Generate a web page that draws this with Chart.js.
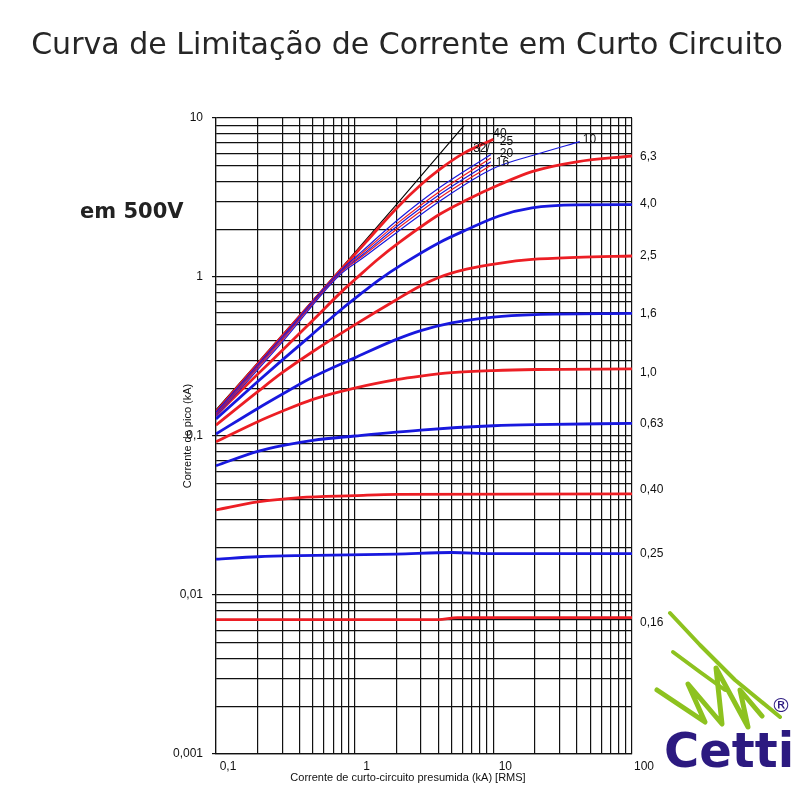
<!DOCTYPE html>
<html>
<head>
<meta charset="utf-8">
<script src="https://cdn.jsdelivr.net/npm/chart.js@4"></script>
<style>
  html,body{margin:0;padding:0;background:#fff;width:800px;height:800px;overflow:hidden;}
  #wrap{position:relative;width:800px;height:800px;}
  #c{position:absolute;left:0;top:0;}
  #title{position:absolute;left:7px;top:26px;width:800px;text-align:center;font-family:"DejaVu Sans",sans-serif;font-size:30px;line-height:36px;color:#262626;white-space:nowrap;}
  #volt{position:absolute;left:80px;top:198px;font-family:"DejaVu Sans",sans-serif;font-weight:bold;font-size:21px;line-height:26px;color:#222;}
  #logo{position:absolute;left:664px;top:726px;font-family:"DejaVu Sans",sans-serif;font-weight:bold;font-size:48px;line-height:48px;color:#2c1a80;letter-spacing:0px;}
  #reg{position:absolute;left:771px;top:694px;font-family:"DejaVu Sans",sans-serif;font-size:20px;line-height:22px;color:#2c1a80;}
  #sq{position:absolute;left:0;top:0;}
</style>
</head>
<body>
<div id="wrap">
  <canvas id="c" width="800" height="800"></canvas>
  <div id="title">Curva de Limitação de Corrente em Curto Circuito</div>
  <div id="volt">em 500V</div>
  <svg id="sq" width="800" height="800">
    <g fill="none" stroke="#8dc21f" stroke-linecap="round" stroke-linejoin="round">
      <polyline stroke-width="4" points="670,613 700,645 735,680 780,717"/>
      <polyline stroke-width="5" points="657,690 705,722 688,684 722,724 716,668 748,727 740,690 762,716"/>
      <polyline stroke-width="4" points="673,652 700,672 725,690"/>
    </g>
  </svg>
  <div id="reg">®</div>
  <div id="logo">Cetti</div>
</div>
<script>
// ---- axis ticks ----
const xMajorValues = [0.1, 1, 10, 100];
const xTickLabels  = ['0,1', '1', '10', '100'];
const yMajorValues = [0.001, 0.01, 0.1, 1, 10];
const yTickLabels  = ['0,001', '0,01', '0,1', '1', '10'];
const xTitle = 'Corrente de curto-circuito presumida (kA) [RMS]';
const yTitle = 'Corrente de pico (kA)';

// ---- curves: prospective short-circuit current (kA rms) vs peak let-through current (kA) ----
const xUnlimited = [0.1, 0.78, 2, 6.1];
const yUnlimited = [0.146, 1.107, 2.85, 8.9];

const x40 = [0.1, 0.3, 0.78, 1.2, 2, 3, 4.1, 6, 10];
const y40 = [0.142, 0.425, 1.09, 1.65, 2.7, 3.8, 4.75, 5.95, 7.35];
const x32 = [0.1, 0.3, 0.78, 1.15, 2, 4.1, 9.6];
const y32 = [0.141, 0.42, 1.08, 1.47, 2.25, 3.65, 5.9];
const x25 = [0.1, 0.3, 0.78, 1.15, 2, 4.1, 9.6];
const y25 = [0.139, 0.415, 1.07, 1.43, 2.15, 3.45, 5.6];
const x20 = [0.1, 0.3, 0.78, 1.15, 2, 4.1, 9.6];
const y20 = [0.137, 0.41, 1.06, 1.39, 2.07, 3.3, 5.3];
const x16 = [0.1, 0.3, 0.78, 1.15, 2, 4.1, 9.6];
const y16 = [0.135, 0.40, 1.05, 1.36, 1.99, 3.15, 5.05];
const x10 = [0.1, 0.3, 0.78, 1.15, 2, 4.1, 9.9, 21.7, 42];
const y10 = [0.133, 0.39, 1.03, 1.32, 1.9, 3.0, 4.8, 6.0, 7.1];

const x6_3 = [0.1, 0.2, 0.3, 0.5, 0.83, 1, 1.45, 2.1, 4.1, 6.4, 11, 19, 40, 100];
const y6_3 = [0.135, 0.245, 0.345, 0.535, 0.83, 0.96, 1.28, 1.65, 2.48, 3.05, 3.8, 4.6, 5.3, 5.77];
const x4_0 = [0.1, 0.2, 0.3, 0.5, 0.8, 1.1, 1.5, 2.2, 4.1, 6.4, 11, 19, 40, 100];
const y4_0 = [0.128, 0.22, 0.30, 0.44, 0.625, 0.78, 0.96, 1.2, 1.65, 1.98, 2.42, 2.72, 2.84, 2.85];
const x2_5 = [0.1, 0.2, 0.3, 0.5, 1, 2, 3, 4, 6.4, 11, 19, 40, 100];
const y2_5 = [0.117, 0.19, 0.25, 0.34, 0.50, 0.72, 0.88, 0.99, 1.12, 1.22, 1.29, 1.33, 1.355];
const x1_6 = [0.1, 0.2, 0.3, 0.5, 1, 2, 3, 5, 10, 20, 100];
const y1_6 = [0.103, 0.149, 0.183, 0.235, 0.31, 0.405, 0.46, 0.515, 0.56, 0.58, 0.59];
const x1_0 = [0.1, 0.2, 0.3, 0.5, 1, 2, 3, 5, 10, 20, 100];
const y1_0 = [0.092, 0.123, 0.143, 0.170, 0.200, 0.226, 0.238, 0.250, 0.258, 0.262, 0.264];
const x0_63 = [0.1, 0.2, 0.3, 0.5, 1, 3, 10, 20, 100];
const y0_63 = [0.065, 0.080, 0.087, 0.094, 0.100, 0.109, 0.116, 0.118, 0.120];
const x0_40 = [0.1, 0.2, 0.4, 1, 2, 100];
const y0_40 = [0.0343, 0.0385, 0.041, 0.0422, 0.043, 0.0432];
const x0_25 = [0.1, 0.2, 0.4, 2, 5, 10, 100];
const y0_25 = [0.0168, 0.0174, 0.0177, 0.0181, 0.0185, 0.0182, 0.0182];
const x0_16 = [0.1, 1, 4, 5.5, 10, 100];
const y0_16 = [0.0070, 0.0070, 0.0070, 0.0072, 0.0072, 0.0072];

const RED = 'rgb(236,30,36)';
const BLUE = 'rgb(24,24,222)';
const pts = (xs, ys) => xs.map((x, i) => ({x: x, y: ys[i]}));

function ds(label, xs, ys, color, width, extra) {
  return Object.assign({
    label: label, data: pts(xs, ys), borderColor: color, borderWidth: width,
    pointRadius: 0, fill: false, cubicInterpolationMode: 'monotone'
  }, extra || {});
}

const datasets = [
  ds('32', x32, y32, BLUE, 1.2, {endLabel: '32/', lx: -1, ly: -6, lalign: 'right'}),
  ds('25', x25, y25, RED, 1.2, {endLabel: '25', lx: 9, ly: -16}),
  ds('20', x20, y20, BLUE, 1.2, {endLabel: '20', lx: 9, ly: -8}),
  ds('16', x16, y16, RED, 1.2, {endLabel: '16', lx: 5, ly: -2}),
  ds('10', x10, y10, BLUE, 1.2, {endLabel: '10', lx: 3, ly: -2}),
  ds('40', x40, y40, RED, 2.8, {endLabel: '40', lx: 0, ly: -6}),
  ds('6,3', x6_3, y6_3, RED, 2.8, {rightLabel: '6,3', ly: 1}),
  ds('4,0', x4_0, y4_0, BLUE, 2.8, {rightLabel: '4,0', ly: -1}),
  ds('2,5', x2_5, y2_5, RED, 2.8, {rightLabel: '2,5', ly: 0}),
  ds('1,6', x1_6, y1_6, BLUE, 2.8, {rightLabel: '1,6', ly: 0}),
  ds('1,0', x1_0, y1_0, RED, 2.8, {rightLabel: '1,0', ly: 4}),
  ds('0,63', x0_63, y0_63, BLUE, 2.8, {rightLabel: '0,63', ly: 0}),
  ds('0,40', x0_40, y0_40, RED, 2.8, {rightLabel: '0,40', ly: -4}),
  ds('0,25', x0_25, y0_25, BLUE, 2.8, {rightLabel: '0,25', ly: 0}),
  ds('0,16', x0_16, y0_16, RED, 2.8, {rightLabel: '0,16', ly: 5}),
  ds('Ip', xUnlimited, yUnlimited, '#000', 1.1, {cubicInterpolationMode: 'default', tension: 0})
];

const FONT_FAMILY = '"Liberation Sans", Arial, sans-serif';

const endLabels = {
  id: 'endLabels',
  afterDatasetsDraw(chart) {
    const {ctx, chartArea, scales} = chart;
    ctx.save();
    ctx.font = '12px ' + FONT_FAMILY;
    ctx.fillStyle = '#111';
    ctx.textBaseline = 'middle';
    chart.data.datasets.forEach(d => {
      const last = d.data[d.data.length - 1];
      const py = scales.y.getPixelForValue(last.y);
      if (d.rightLabel) {
        ctx.textAlign = 'left';
        ctx.fillText(d.rightLabel, chartArea.right + 8, py + d.ly);
      } else if (d.endLabel) {
        ctx.textAlign = d.lalign || 'left';
        ctx.fillText(d.endLabel, scales.x.getPixelForValue(last.x) + d.lx, py + d.ly);
      }
    });
    // x-axis title (slightly left of the plot centre, as in the original)
    ctx.font = '11px ' + FONT_FAMILY;
    ctx.textAlign = 'center';
    ctx.fillText(xTitle, (chartArea.left + chartArea.right) / 2 - 16, chartArea.bottom + 24);
    ctx.restore();
  }
};

function logTicks(majors) {
  const out = [];
  for (let i = 0; i < majors.length - 1; i++) {
    for (let m = 1; m <= 9; m++) out.push({value: majors[i] * m, major: m === 1});
  }
  out.push({value: majors[majors.length - 1], major: true});
  return out;
}
function labelFor(value, majors, labels) {
  for (let i = 0; i < majors.length; i++) {
    if (Math.abs(value - majors[i]) < majors[i] * 1e-6) return labels[i];
  }
  return '';
}

const gridColor = '#111';

new Chart(document.getElementById('c'), {
  type: 'line',
  data: {datasets: datasets},
  plugins: [endLabels],
  options: {
    responsive: false,
    animation: false,
    devicePixelRatio: 1,
    layout: {padding: {left: 170, right: 168, top: 118, bottom: 0}},
    plugins: {legend: {display: false}, tooltip: {enabled: false}},
    scales: {
      x: {
        type: 'logarithmic', min: 0.1, max: 100,
        afterBuildTicks: s => { s.ticks = logTicks(xMajorValues); },
        afterFit: s => { s.height = 46; },
        grid: {color: gridColor, lineWidth: 1.2, drawTicks: false},
        border: {color: '#111', width: 1.2},
        ticks: {
          autoSkip: false, maxRotation: 0, padding: 5, labelOffset: 12,
          color: '#111', font: {family: FONT_FAMILY, size: 12},
          callback: v => labelFor(v, xMajorValues, xTickLabels)
        },
        title: {display: false}
      },
      y: {
        type: 'logarithmic', min: 0.001, max: 10,
        afterBuildTicks: s => { s.ticks = logTicks(yMajorValues); },
        afterFit: s => { s.width = 46; },
        grid: {
          color: gridColor, lineWidth: 1.2, tickLength: 4,
          tickColor: c => (c.tick && c.tick.major) ? '#111' : 'rgba(0,0,0,0)'
        },
        border: {color: '#111', width: 1.2},
        ticks: {
          autoSkip: false, padding: 9,
          color: '#111', font: {family: FONT_FAMILY, size: 12},
          callback: v => labelFor(v, yMajorValues, yTickLabels)
        },
        title: {
          display: true, text: yTitle,
          color: '#111', font: {family: FONT_FAMILY, size: 11},
          padding: {top: 11, bottom: 0}
        }
      }
    }
  }
});
</script>
</body>
</html>
